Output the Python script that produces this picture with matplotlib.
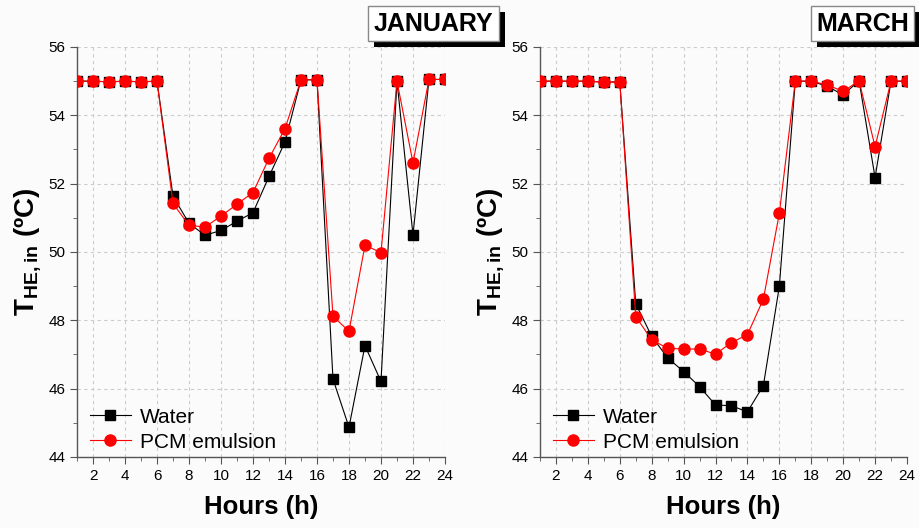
import matplotlib
matplotlib.use("Agg")
import matplotlib.pyplot as plt
from matplotlib.ticker import MultipleLocator
from matplotlib.patches import Rectangle

plt.rcParams["font.family"] = ["Liberation Sans", "DejaVu Sans"]
plt.rcParams["mathtext.fontset"] = "custom"
plt.rcParams["mathtext.bf"] = "Liberation Sans:bold"
plt.rcParams["mathtext.rm"] = "Liberation Sans"

hours = list(range(1, 25))

jan_water = [55.0, 55.0, 54.98, 55.0, 54.98, 55.0, 51.63, 50.84, 50.49, 50.63, 50.90, 51.15,
             52.21, 53.22, 55.04, 55.04, 46.28, 44.87, 47.26, 46.21, 55.0, 50.50, 55.05, 55.05]
jan_pcm = [55.0, 55.0, 54.98, 55.0, 54.98, 55.0, 51.42, 50.78, 50.73, 51.05, 51.40, 51.74,
           52.74, 53.61, 55.04, 55.04, 48.12, 47.68, 50.20, 49.98, 55.0, 52.61, 55.05, 55.05]

mar_water = [55.0, 55.0, 55.0, 55.0, 54.97, 54.98, 48.49, 47.53, 46.90, 46.50, 46.06, 45.52,
             45.50, 45.32, 46.09, 48.99, 55.0, 55.0, 54.85, 54.60, 55.01, 52.18, 55.0, 55.0]
mar_pcm = [55.0, 55.0, 55.0, 55.0, 54.97, 54.98, 48.11, 47.43, 47.18, 47.16, 47.16, 47.01,
           47.35, 47.58, 48.62, 51.13, 55.0, 55.0, 54.89, 54.70, 55.01, 53.08, 55.0, 55.0]

months = ["JANUARY", "MARCH"]

fig = plt.figure(figsize=(9.19, 5.28), dpi=100, facecolor="#fbfbfb")
ax1 = fig.add_axes([0.0838, 0.1345, 0.4004, 0.7765])
ax2 = fig.add_axes([0.5876, 0.1345, 0.3993, 0.7765])

for ax, water, pcm in [(ax1, jan_water, jan_pcm), (ax2, mar_water, mar_pcm)]:
    ax.set_facecolor("#fbfbfb")
    ax.plot(hours, water, color="black", lw=0.8, marker="s", ms=7.5, label="Water", zorder=3)
    ax.plot(hours, pcm, color="red", lw=0.8, marker="o", ms=8, label="PCM emulsion", zorder=4)
    ax.set_xlim(1, 24)
    ax.set_ylim(44, 56)
    ax.xaxis.set_major_locator(MultipleLocator(2))
    ax.xaxis.set_minor_locator(MultipleLocator(1))
    ax.yaxis.set_major_locator(MultipleLocator(2))
    ax.yaxis.set_minor_locator(MultipleLocator(1))
    ax.set_xticks(range(2, 25, 2))
    ax.grid(True, which="major", linestyle=(0, (3, 3)), color="#cccccc", lw=0.8)
    ax.spines["top"].set_visible(False)
    ax.spines["right"].set_visible(False)
    for s in ["left", "bottom"]:
        ax.spines[s].set_color("#555555")
        ax.spines[s].set_linewidth(1.0)
    ax.tick_params(which="major", direction="out", length=5, color="#555555", labelsize=11)
    ax.tick_params(which="minor", direction="out", length=3, color="#555555")
    ax.set_xlabel("Hours (h)", fontsize=18.5, fontweight="bold", labelpad=9)
    ax.set_ylabel(r"$\mathbf{T_{HE,in}}$ (ºC)", fontsize=20, fontweight="bold", labelpad=4)
    ax.legend(loc="lower left", bbox_to_anchor=(0.02, 0.0), frameon=False, fontsize=15,
              handlelength=2.0, borderaxespad=0.0, borderpad=0.25, handletextpad=0.4,
              labelspacing=0.3)

# month boxes with a dark drop shadow
boxes = []
for xc, name in [(0.4715, months[0]), (0.9385, months[1])]:
    t = fig.text(xc, 0.955, name, ha="center", va="center", fontsize=18, fontweight="bold",
                 family=["Liberation Sans Narrow", "Liberation Sans"], zorder=5,
                 bbox=dict(boxstyle="square,pad=0.22", fc="white", ec="#888888", lw=1))
    boxes.append(t)

fig.canvas.draw()
for t in boxes:
    bb = t.get_bbox_patch().get_window_extent()
    x0, y0 = fig.transFigure.inverted().transform((bb.x0 + 6, bb.y0 - 6))
    x1, y1 = fig.transFigure.inverted().transform((bb.x1 + 6, bb.y1 - 6))
    fig.add_artist(Rectangle((x0, y0), x1 - x0, y1 - y0, transform=fig.transFigure,
                             fc="black", ec="none", zorder=4))

fig.savefig("out.png", dpi=100, facecolor=fig.get_facecolor())
